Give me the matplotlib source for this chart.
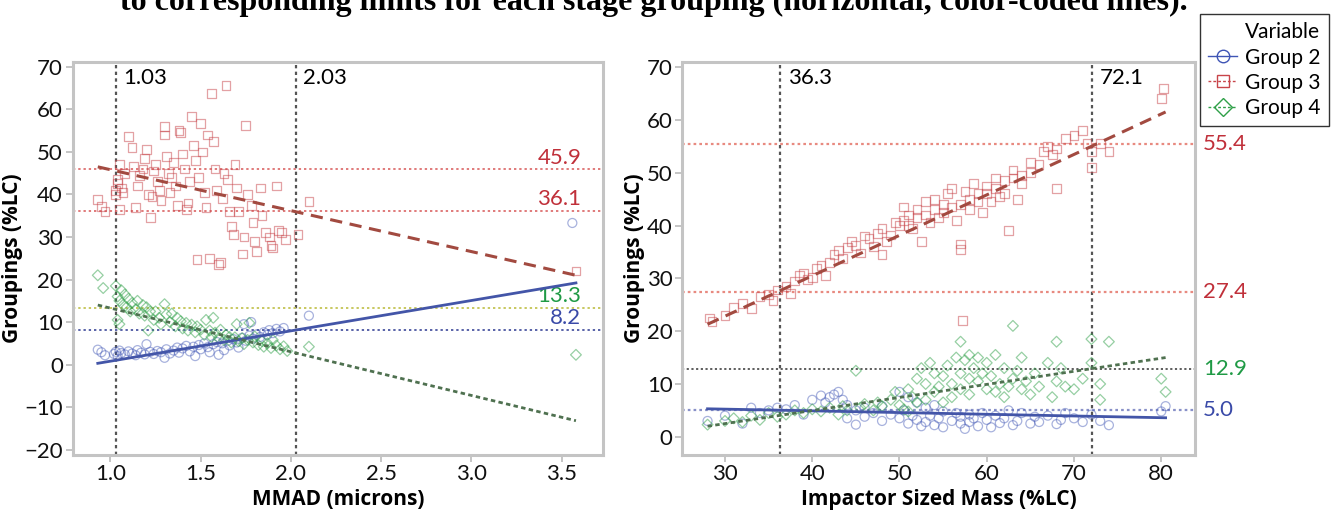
import matplotlib.pyplot as plt
from matplotlib.lines import Line2D
from matplotlib.transforms import blended_transform_factory

# ---- data ----
title = "to corresponding limits for each stage grouping (horizontal, color-coded lines)."

# left panel: groupings vs MMAD
mmad_g2 = [0.93, 0.95, 0.97, 1.02, 1.03, 1.04, 1.05, 1.06, 1.08, 1.10, 1.12, 1.14, 1.15, 1.17, 1.19,
           1.20, 1.22, 1.24, 1.26, 1.28, 1.30, 1.31, 1.33, 1.35, 1.37, 1.38, 1.40, 1.42, 1.44, 1.46,
           1.47, 1.49, 1.50, 1.52, 1.54, 1.55, 1.57, 1.59, 1.60, 1.62, 1.63, 1.65, 1.66, 1.68, 1.70,
           1.71, 1.73, 1.74, 1.75, 1.77, 1.78, 1.79, 1.81, 1.83, 1.85, 1.87, 1.88, 1.90, 1.92, 1.94,
           1.96, 2.10, 3.56]
val_g2_l = [3.5, 2.9, 2.2, 2.5, 3.0, 2.0, 3.3, 2.7, 2.4, 3.1, 2.6, 2.2, 3.4, 2.8, 2.4,
            4.8, 3.0, 2.5, 3.2, 2.9, 1.6, 3.6, 2.6, 3.3, 4.0, 2.8, 3.8, 4.4, 3.1, 4.2,
            2.0, 4.6, 3.6, 5.0, 4.1, 2.9, 4.8, 5.3, 2.3, 5.0, 3.4, 5.6, 4.5, 6.0, 5.2,
            4.0, 6.3, 9.5, 5.6, 6.8, 10.0, 6.1, 7.1, 6.5, 7.6, 7.0, 8.1, 7.4, 8.4, 7.8,
            8.6, 11.5, 33.3]

mmad_g3 = [0.93, 0.95, 0.97, 1.03, 1.03, 1.04, 1.04, 1.05, 1.05, 1.06, 1.07, 1.08, 1.10, 1.12, 1.13,
           1.14, 1.15, 1.16, 1.18, 1.19, 1.20, 1.21, 1.22, 1.23, 1.24, 1.25, 1.26, 1.27, 1.28, 1.30,
           1.30, 1.31, 1.32, 1.33, 1.34, 1.35, 1.36, 1.37, 1.38, 1.39, 1.40, 1.41, 1.42, 1.43, 1.44,
           1.45, 1.46, 1.47, 1.48, 1.49, 1.50, 1.51, 1.52, 1.53, 1.54, 1.55, 1.56, 1.57, 1.58, 1.59,
           1.60, 1.61, 1.62, 1.63, 1.64, 1.65, 1.66, 1.67, 1.68, 1.69, 1.70, 1.71, 1.73, 1.74, 1.75,
           1.76, 1.78, 1.79, 1.80, 1.81, 1.83, 1.84, 1.86, 1.88, 1.89, 1.90, 1.92, 1.93, 1.95, 1.97,
           2.04, 2.10, 3.58]
val_g3_l = [38.8, 37.2, 36.0, 41.0, 40.0, 42.5, 43.5, 47.0, 36.5, 41.5, 40.5, 45.0, 53.6, 51.0, 46.5,
            37.0, 42.0, 44.5, 46.0, 48.5, 50.5, 40.0, 34.5, 39.5, 45.5, 47.0, 43.0, 41.0, 38.5, 56.0,
            54.0, 49.0, 45.0, 40.5, 44.0, 47.5, 42.0, 37.5, 55.0, 54.5, 49.5, 46.0, 36.5, 38.0, 43.0,
            58.3, 51.5, 48.0, 24.7, 44.0, 56.7, 50.0, 40.5, 37.0, 54.0, 25.0, 63.8, 52.5, 46.0, 41.0,
            23.5, 24.0, 39.0, 45.0, 65.7, 43.5, 36.0, 32.5, 30.5, 47.0, 41.5, 36.0, 26.0, 30.0, 56.3,
            40.0, 37.5, 33.5, 29.0, 26.6, 41.5, 35.0, 31.0, 30.0, 28.0, 27.4, 42.0, 31.5, 31.0, 29.5,
            30.5, 38.3, 22.0]

mmad_g4 = [0.93, 0.96, 1.03, 1.04, 1.04, 1.05, 1.05, 1.06, 1.07, 1.08, 1.09, 1.10, 1.11, 1.12, 1.14,
           1.15, 1.16, 1.18, 1.19, 1.20, 1.21, 1.22, 1.24, 1.25, 1.27, 1.28, 1.30, 1.31, 1.33, 1.34,
           1.36, 1.37, 1.39, 1.40, 1.42, 1.43, 1.45, 1.47, 1.48, 1.50, 1.52, 1.53, 1.55, 1.56, 1.57,
           1.58, 1.60, 1.61, 1.63, 1.64, 1.66, 1.67, 1.69, 1.70, 1.71, 1.73, 1.74, 1.76, 1.77, 1.79,
           1.80, 1.82, 1.84, 1.85, 1.87, 1.89, 1.90, 1.92, 1.94, 1.96, 1.98, 2.10, 3.58]
val_g4_l = [21.0, 18.0, 18.5, 16.0, 10.5, 9.5, 15.0, 17.5, 14.0, 16.5, 13.5, 15.5, 12.5, 14.5, 13.0,
            15.0, 12.0, 14.0, 11.5, 13.5, 8.0, 12.5, 10.5, 12.5, 11.0, 9.5, 14.2, 11.8, 10.0, 12.0,
            9.0, 11.0, 10.2, 8.5, 9.8, 8.0, 9.4, 7.6, 9.0, 8.2, 7.0, 10.5, 8.0, 6.5, 11.0,
            7.5, 6.2, 8.2, 5.8, 7.0, 6.5, 5.2, 6.4, 9.5, 5.5, 6.2, 4.8, 5.8, 9.8, 5.2,
            6.6, 4.6, 5.5, 4.2, 5.0, 3.9, 5.8, 4.5, 3.6, 4.3, 3.2, 4.2, 2.3]

# right panel: groupings vs impactor sized mass
ism_g2 = [28, 30, 32, 33, 34, 35, 36, 37, 38, 39, 40, 41, 41.5, 42, 42.5, 43, 43.5, 44, 44, 45, 45,
          46, 46, 47, 48, 48, 49, 50, 50, 50.5, 51, 51, 51.5, 52, 52, 52.5, 53, 53, 53.5, 54, 54,
          54.5, 55, 55, 56, 56.5, 57, 57, 57.5, 58, 58, 58.5, 59, 59.5, 60, 60.5, 61, 61.5, 62,
          62.5, 63, 63.5, 64, 65, 65.5, 66, 67, 68, 68.5, 69, 70, 71, 72, 73, 74, 80, 80.5]
val_g2_r = [3.0, 4.0, 2.5, 5.5, 4.5, 5.0, 5.5, 5.2, 6.0, 4.2, 7.0, 7.8, 6.5, 7.5, 8.0, 8.5, 7.0, 6.0,
            3.5, 5.0, 2.3, 5.5, 3.8, 4.5, 5.8, 3.0, 4.2, 8.5, 3.5, 5.0, 7.5, 2.5, 4.0, 6.5, 3.2,
            2.0, 5.5, 2.8, 4.0, 6.0, 2.2, 3.5, 4.8, 1.8, 3.0, 4.5, 2.5, 3.8, 1.5, 4.2, 2.8, 3.5,
            2.0, 4.5, 3.2, 1.8, 4.0, 2.6, 3.5, 5.0, 2.2, 3.0, 4.5, 2.5, 3.8, 2.8, 4.0, 2.4, 3.2,
            4.5, 3.5, 2.8, 4.2, 3.0, 2.2, 4.8, 5.8]

ism_g3 = [28.2, 28.5, 30, 31, 32, 33, 34, 35, 35.5, 36, 37, 37.5, 38, 38.5, 39, 39.5, 40, 40.5,
          41, 41.5, 42, 42.5, 43, 43.5, 44, 44.5, 45, 45.5, 46, 46.5, 47, 47.5, 48, 48, 48.5, 49,
          49.5, 50, 50.5, 50.5, 51, 51, 51.5, 52, 52, 52.5, 53, 53, 53.5, 54, 54, 54.5, 55, 55,
          55.5, 56, 56, 56.5, 57, 57, 57, 57.2, 57.5, 58, 58, 58.5, 59, 59, 59.5, 60, 60, 60.5,
          61, 61, 61.5, 62, 62, 62.5, 63, 63, 63.5, 64, 64, 65, 65, 66, 66.5, 67, 67.5, 68, 68,
          69, 70, 71, 71.5, 72, 72, 73, 74, 80, 80.3]
val_g3_r = [22.5, 21.8, 23.0, 24.5, 25.2, 24.3, 26.5, 27.0, 25.8, 27.8, 28.5, 27.2, 29.5, 30.5,
            31.0, 29.8, 30.2, 31.8, 32.5, 30.5, 33.0, 34.5, 35.2, 33.8, 35.8, 37.0, 36.2, 34.8,
            38.0, 37.5, 36.0, 38.5, 39.5, 34.5, 37.0, 38.2, 40.5, 40.0, 41.0, 43.5, 40.0, 42.0,
            39.5, 41.5, 43.0, 37.0, 42.0, 44.5, 40.5, 43.0, 45.0, 41.5, 44.0, 42.5, 46.0, 43.5,
            47.0, 41.0, 44.0, 36.5, 35.5, 22.0, 46.5, 45.0, 43.0, 48.0, 46.0, 44.5, 42.5, 47.5,
            46.0, 44.5, 49.0, 47.0, 45.5, 48.5, 46.0, 39.0, 50.5, 49.0, 45.0, 49.5, 48.0, 52.0,
            50.0, 51.5, 54.0, 55.0, 53.5, 54.5, 47.0, 56.5, 57.0, 58.0, 55.5, 54.0, 51.0, 55.5,
            54.0, 64.0, 66.0]

ism_g4 = [28, 30, 31, 32, 33, 34, 35, 36, 37, 38, 39, 40, 41, 42, 43, 43.5, 44, 45, 45.5, 46, 47,
          47.5, 48, 49, 49.5, 50, 50.5, 51, 51, 51.5, 52, 52, 52.5, 53, 53, 53.5, 54, 54, 54.5, 55,
          55, 55.5, 56, 56, 56.5, 57, 57, 57, 57.5, 58, 58, 58, 58.5, 59, 59, 59.5, 60, 60, 60.5,
          61, 61, 61.5, 62, 62, 62.5, 63, 63, 63.5, 64, 64, 64.5, 65, 65.5, 66, 67, 67.5, 68, 68,
          68.5, 69, 70, 71, 72, 72, 73, 73, 74, 80, 80.5]
val_g4_r = [2.3, 3.0, 3.5, 2.8, 4.0, 3.2, 4.5, 3.8, 4.2, 5.0, 4.5, 5.2, 4.8, 5.5, 4.2, 5.8, 5.0,
            12.5, 5.5, 6.2, 5.0, 6.5, 5.8, 7.0, 8.5, 6.0, 5.2, 9.0, 4.8, 7.5, 11.0, 6.5, 13.0, 10.0,
            7.0, 14.0, 12.0, 8.5, 9.5, 11.5, 6.5, 13.5, 10.0, 7.5, 15.0, 18.0, 12.0, 9.0, 14.5,
            15.5, 11.0, 8.0, 13.0, 15.0, 10.5, 12.0, 14.0, 9.0, 11.5, 15.5, 8.5, 10.0, 13.0, 7.5,
            9.5, 21.0, 11.0, 12.5, 15.0, 9.0, 10.5, 8.0, 12.0, 9.5, 14.0, 7.5, 18.0, 10.5, 13.0,
            9.5, 9.0, 11.0, 14.0, 18.5, 7.0, 10.0, 18.0, 11.0, 8.5]

# fitted trend lines (end points as drawn)
fit_x_l = [0.93, 3.58]
fit_g2_l = [0.3, 19.2]
fit_g3_l = [46.5, 21.0]
fit_g4_l = [14.0, -13.2]
fit_x_r = [28.0, 80.5]
fit_g2_r = [5.3, 3.6]
fit_g3_r = [21.3, 61.5]
fit_g4_r = [2.0, 15.0]

# reference limits
mmad_limits = [1.03, 2.03]
mmad_hlines = [45.9, 36.1, 13.3, 8.2]
ism_limits = [36.3, 72.1]
ism_hlines = [55.4, 27.4, 12.9, 5.0]

c_g2, c_g3, c_g4 = "#3f55b5", "#c8454a", "#2fa048"
lab_cols = ["#c0303a", "#c0303a", "#1f9a45", "#3a4aa8"]
hl_cols_l = ["#e07a7a", "#e07a7a", "#c8c860", "#5862a8"]
hl_cols_r = ["#e88a80", "#e88a80", "#505050", "#8890c8"]

plt.rcParams["font.family"] = ["Lato", "DejaVu Sans"]

fig = plt.figure(figsize=(13.43, 5.15), dpi=100)
ax1 = fig.add_axes([0.054, 0.117, 0.395, 0.763])
ax2 = fig.add_axes([0.508, 0.117, 0.382, 0.763])

fig.text(0.487, 0.981, title, ha="center", va="baseline", fontsize=23,
         fontweight="bold", family="Liberation Serif")


def style_axes(ax):
    for s in ax.spines.values():
        s.set_color("#c4c4c4")
        s.set_linewidth(2.2)
    ax.tick_params(colors="#bbbbbb", labelcolor="#111111", labelsize=16,
                   length=5, width=1.2, direction="out", pad=2)
    ax.set_ylabel("Groupings (%LC)", fontsize=15, fontweight="bold",
                  family="Open Sans", labelpad=1)


def scatter_groups(ax, xs, ys):
    ax.scatter(xs[0], ys[0], marker="o", s=42, facecolors="none",
               edgecolors=c_g2, linewidths=0.9, alpha=0.45, zorder=3)
    ax.scatter(xs[1], ys[1], marker="s", s=40, facecolors="none",
               edgecolors=c_g3, linewidths=0.9, alpha=0.5, zorder=3)
    ax.scatter(xs[2], ys[2], marker="D", s=30, facecolors="none",
               edgecolors=c_g4, linewidths=0.9, alpha=0.5, zorder=3)


# ---- left panel ----
style_axes(ax1)
for v in mmad_limits:
    ax1.axvline(v, color="#555555", ls=(0, (1.5, 1.5)), lw=1.6, zorder=2)
for v, c in zip(mmad_hlines, hl_cols_l):
    ax1.axhline(v, color=c, ls=(0, (1.2, 1.5)), lw=1.4, zorder=2)
scatter_groups(ax1, [mmad_g2, mmad_g3, mmad_g4], [val_g2_l, val_g3_l, val_g4_l])
ax1.plot(fit_x_l, fit_g2_l, color="#4355a8", lw=2, zorder=4)
ax1.plot(fit_x_l, fit_g3_l, color="#a24a40", lw=2.2, ls=(0, (4, 2.5)), zorder=4)
ax1.plot(fit_x_l, fit_g4_l, color="#4f7150", lw=2, ls=(0, (1.6, 1.2)), zorder=4)
ax1.set_xlim(0.79, 3.73)
ax1.set_ylim(-21.2, 71.2)
ax1.set_xticks([1.0, 1.5, 2.0, 2.5, 3.0, 3.5])
ax1.set_xticklabels(["1.0", "1.5", "2.0", "2.5", "3.0", "3.5"])
ax1.set_yticks(range(-20, 71, 10))
ax1.set_xlabel("MMAD (microns)", fontsize=15, fontweight="bold",
               family="Open Sans", labelpad=3)
tr1 = blended_transform_factory(ax1.transData, ax1.transAxes)
for v in mmad_limits:
    ax1.text(v + 0.04, 0.985, f"{v:.2f}", transform=tr1, ha="left", va="top", fontsize=16)
for v, c in zip(mmad_hlines, lab_cols):
    ax1.text(3.61, v + 0.4, f"{v:.1f}", ha="right", va="bottom", fontsize=16, color=c)

# ---- right panel ----
style_axes(ax2)
for v in ism_limits:
    ax2.axvline(v, color="#555555", ls=(0, (1.5, 1.5)), lw=1.6, zorder=2)
for v, c in zip(ism_hlines, hl_cols_r):
    ax2.axhline(v, color=c, ls=(0, (1.2, 1.4)), lw=1.6 if c != "#505050" else 1.3, zorder=2)
scatter_groups(ax2, [ism_g2, ism_g3, ism_g4], [val_g2_r, val_g3_r, val_g4_r])
ax2.plot(fit_x_r, fit_g2_r, color="#4355a8", lw=2, zorder=4)
ax2.plot(fit_x_r, fit_g3_r, color="#a24a40", lw=2.2, ls=(0, (4, 2.5)), zorder=4)
ax2.plot(fit_x_r, fit_g4_r, color="#4f7150", lw=2, ls=(0, (1.6, 1.2)), zorder=4)
ax2.set_xlim(25.1, 83.9)
ax2.set_ylim(-3.4, 71.0)
ax2.set_xticks(range(30, 81, 10))
ax2.set_yticks(range(0, 71, 10))
ax2.set_xlabel("Impactor Sized Mass (%LC)", fontsize=15, fontweight="bold",
               family="Open Sans", labelpad=3)
tr2 = blended_transform_factory(ax2.transData, ax2.transAxes)
for v in ism_limits:
    ax2.text(v + 0.9, 0.985, f"{v:.1f}", transform=tr2, ha="left", va="top", fontsize=16)
tr2b = blended_transform_factory(ax2.transAxes, ax2.transData)
for v, c in zip(ism_hlines, lab_cols):
    ax2.text(1.015, v, f"{v:.1f}", transform=tr2b, ha="left", va="center", fontsize=16,
             color=c)

# ---- legend ----
handles = [
    Line2D([], [], color=c_g2, ls="-", lw=1, marker="o", ms=9, mfc="none"),
    Line2D([], [], color=c_g3, ls=(0, (2, 1.5)), lw=1, marker="s", ms=9, mfc="none"),
    Line2D([], [], color=c_g4, ls=(0, (2, 1.5)), lw=1, marker="D", ms=9, mfc="none"),
]
leg = fig.legend(handles, ["Group 2", "Group 3", "Group 4"], title="Variable",
                 loc="upper right", bbox_to_anchor=(0.997, 0.993), fontsize=15,
                 title_fontsize=15, frameon=True, fancybox=False, edgecolor="black",
                 handlelength=1.4, handletextpad=0.35, borderpad=0.4, labelspacing=0.25,
                 alignment="right")
leg.get_frame().set_linewidth(1.0)

fig.savefig("out.png", dpi=100)
